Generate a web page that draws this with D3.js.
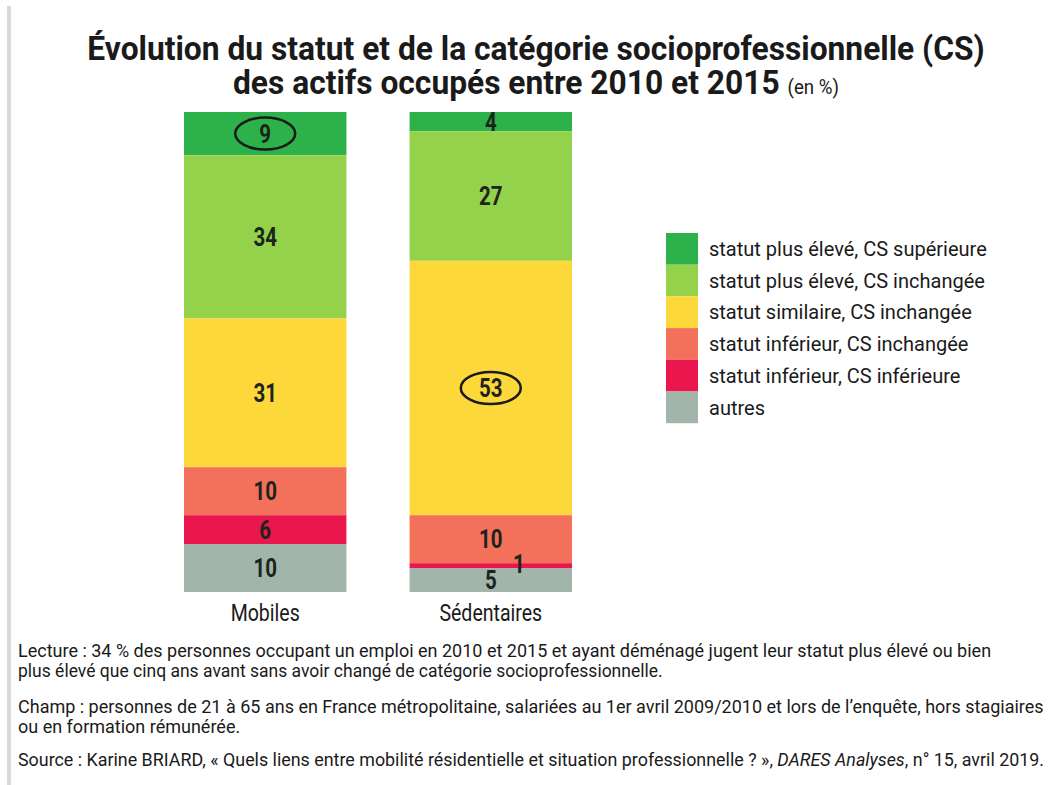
<!DOCTYPE html>
<html>
<head>
<meta charset="utf-8">
<script src="https://cdn.jsdelivr.net/npm/d3@7"></script>
<style>
  body { margin: 0; background: #fff; }
  svg text { font-family: "Roboto", "Liberation Sans", sans-serif; }
</style>
</head>
<body>
<svg id="chart" width="1062" height="785"></svg>
<script>
// data
const groups = ["Mobiles", "Sédentaires"];
const categories = [
  "statut plus élevé, CS supérieure",
  "statut plus élevé, CS inchangée",
  "statut similaire, CS inchangée",
  "statut inférieur, CS inchangée",
  "statut inférieur, CS inférieure",
  "autres"
];
const mobiles = [9, 34, 31, 10, 6, 10];
const sedentaires = [4, 27, 53, 10, 1, 5];
const colors = ["#2db14b", "#93d24a", "#fdd83b", "#f3705a", "#e9174d", "#a1b5aa"];
// values that get an ellipse around them
const circled = [["Mobiles", 0], ["Sédentaires", 2]];

const title1 = "Évolution du statut et de la catégorie socioprofessionnelle (CS)";
const title2 = "des actifs occupés entre 2010 et 2015 ";
const title2unit = "(en %)";
const notes = [
  "Lecture : 34 % des personnes occupant un emploi en 2010 et 2015 et ayant déménagé jugent leur statut plus élevé ou bien",
  "plus élevé que cinq ans avant sans avoir changé de catégorie socioprofessionnelle.",
  "Champ : personnes de 21 à 65 ans en France métropolitaine, salariées au 1er avril 2009/2010 et lors de l’enquête, hors stagiaires",
  "ou en formation rémunérée."
];

const svg = d3.select("#chart");

// squeeze a text horizontally so it spans `width` px (reference uses a condensed face)
function fit(t, x, y, width) {
  const w = t.node().getComputedTextLength();
  const k = Math.min(1, width / w);
  t.attr("transform", "translate(" + x + "," + y + ") scale(" + k + ",1)");
  return k;
}

// left rule
svg.append("rect").attr("x", 7).attr("y", 6).attr("width", 4).attr("height", 779).attr("fill", "#d9d9d9");

// title: one text, two centred lines
const title = svg.append("text")
  .attr("font-size", 34).attr("font-weight", "bold").attr("fill", "#1a1a1a")
  .attr("text-anchor", "middle");
const t1 = title.append("tspan").attr("x", 0).attr("y", 60).text(title1);
const t2 = title.append("tspan").attr("x", 0).attr("y", 94).text(title2);
title.append("tspan").attr("font-size", 20).attr("font-weight", "normal").text(title2unit);
const kt = Math.min(1, 898 / t1.node().getComputedTextLength());
title.attr("transform", "translate(536,0) scale(" + kt + ",1)");

// stacked bars, first category on top
const rows = groups.map((g, i) => {
  const vals = i === 0 ? mobiles : sedentaires;
  const row = { group: g };
  categories.forEach((c, j) => row[c] = vals[j]);
  return row;
});

const x = d3.scaleBand().domain(groups).range([184, 572]).paddingInner(0.28);
const y = d3.scaleLinear().domain([0, 100]).range([112, 592]);
const color = d3.scaleOrdinal().domain(categories).range(colors);

const series = d3.stack().keys(categories)(rows);

const layers = svg.append("g").selectAll("g")
  .data(series)
  .join("g")
    .attr("fill", d => color(d.key));

layers.selectAll("rect")
  .data(d => d)
  .join("rect")
    .attr("x", d => x(d.data.group))
    .attr("y", d => y(d[0]))
    .attr("width", x.bandwidth())
    .attr("height", d => y(d[1]) - y(d[0]));

// value labels
const labels = svg.append("g")
  .attr("font-size", 25).attr("font-weight", "bold").attr("fill", "#1c241c")
  .attr("text-anchor", "middle");

series.forEach(s => {
  s.forEach(p => {
    const v = p.data[s.key];
    let cx = x(p.data.group) + x.bandwidth() / 2;
    let cy = (y(p[0]) + y(p[1])) / 2;
    // the thin 1 % slice is labelled beside the middle
    if (v < 3) { cx += 28; cy -= 2; }
    labels.append("text")
      .attr("transform", "translate(" + cx + "," + (cy + 9) + ") scale(0.82,1)")
      .text(v);
    const isCircled = circled.some(c => c[0] === p.data.group && categories[c[1]] === s.key);
    if (isCircled) {
      svg.append("ellipse")
        .attr("cx", cx).attr("cy", cy)
        .attr("rx", 30).attr("ry", 16)
        .attr("fill", "none").attr("stroke", "#1a1a1a").attr("stroke-width", 2.5);
    }
  });
});

// group labels
svg.append("g").selectAll("text")
  .data(groups)
  .join("text")
    .attr("transform", d => "translate(" + (x(d) + x.bandwidth() / 2) + ",621) scale(0.85,1)")
    .attr("text-anchor", "middle")
    .attr("font-size", 23).attr("fill", "#1a1a1a")
    .text(d => d);

// legend
const legend = svg.append("g").attr("transform", "translate(666,233)");
const item = legend.selectAll("g")
  .data(categories)
  .join("g")
    .attr("transform", (d, i) => "translate(0," + (i * 31.7) + ")");
item.append("rect")
  .attr("width", 32).attr("height", 31.7)
  .attr("fill", d => color(d));
const legendText = item.append("text")
  .attr("font-size", 21).attr("fill", "#1a1a1a")
  .text(d => d);
const k0 = Math.min(1, 278 / legendText.node().getComputedTextLength());
legendText.attr("transform", "translate(43,23) scale(" + k0 + ",1)");

// notes
const noteY = [657, 677, 713, 733];
const noteW = [986, 645, 1029, 227];
notes.forEach((t, i) => {
  fit(svg.append("text").attr("font-size", 18).attr("fill", "#1a1a1a").text(t), 18, noteY[i], noteW[i]);
});
const src = svg.append("text").attr("font-size", 18).attr("fill", "#1a1a1a");
src.append("tspan").text("Source : Karine BRIARD, « Quels liens entre mobilité résidentielle et situation professionnelle ? », ");
src.append("tspan").attr("font-style", "italic").text("DARES Analyses");
src.append("tspan").text(", n° 15, avril 2019.");
fit(src, 18, 766, 1027);
</script>
</body>
</html>
